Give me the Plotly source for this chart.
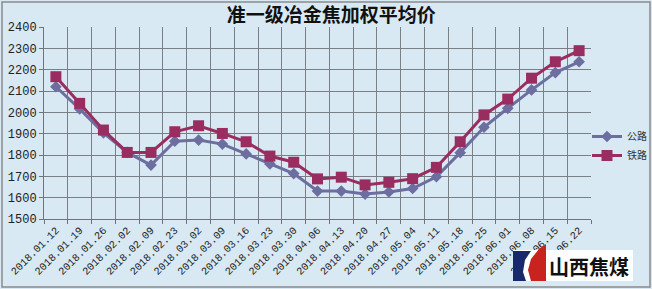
import plotly.graph_objects as go

dates = ["2018.01.12", "2018.01.19", "2018.01.26", "2018.02.02", "2018.02.09", "2018.02.23",
         "2018.03.02", "2018.03.09", "2018.03.16", "2018.03.23", "2018.03.30", "2018.04.06",
         "2018.04.13", "2018.04.20", "2018.04.27", "2018.05.04", "2018.05.11", "2018.05.18",
         "2018.05.25", "2018.06.01", "2018.06.08", "2018.06.15", "2018.06.22"]
highway = [2120, 2016, 1904, 1812, 1753, 1865, 1870, 1851, 1805, 1758, 1713, 1631,
           1631, 1617, 1627, 1643, 1698, 1811, 1930, 2019, 2105, 2186, 2237]
railway = [2167, 2042, 1917, 1812, 1812, 1909, 1937, 1901, 1862, 1795, 1766, 1688,
           1696, 1660, 1672, 1689, 1742, 1862, 1988, 2062, 2160, 2237, 2289]

bg = "#d8e9f3"
fig = go.Figure()
fig.add_trace(go.Scatter(x=dates, y=highway, name="公路", mode="lines+markers",
                         line=dict(color="#6c6e9f", width=3),
                         marker=dict(symbol="diamond", size=9, color="#6c6e9f")))
fig.add_trace(go.Scatter(x=dates, y=railway, name="铁路", mode="lines+markers",
                         line=dict(color="#9a2d60", width=3),
                         marker=dict(symbol="square", size=11, color="#9a2d60")))

W, H = 652, 289
L, R, T, B = 44, 61, 27, 70
pw, ph = W - L - R, H - T - B

def px(x):
    return (x - L) / pw

def py(y):
    return (H - B - y) / ph

shapes = [
    dict(type="rect", xref="paper", yref="paper", x0=px(2), x1=px(650), y0=py(287), y1=py(2),
         line=dict(color="#8a8a8a", width=1.5), layer="below"),
    dict(type="rect", xref="paper", yref="paper", x0=px(513), x1=px(633), y0=py(281), y1=py(250),
         line=dict(width=0), fillcolor="white", layer="above"),
    dict(type="path", xref="paper", yref="paper",
         path=f"M {px(513)},{py(251)} L {px(531)},{py(251)} L {px(525)},{py(260)} L {px(523)},{py(272)} L {px(526)},{py(281)} L {px(513)},{py(281)} Z",
         line=dict(width=0), fillcolor="#17296b", layer="above"),
    dict(type="path", xref="paper", yref="paper",
         path=f"M {px(546)},{py(244)} L {px(546)},{py(281)} L {px(531)},{py(281)} L {px(528)},{py(270)} L {px(531)},{py(259)} L {px(539)},{py(249)} Z",
         line=dict(width=0), fillcolor="#c8231f", layer="above"),
]

fig.update_layout(
    width=W, height=H,
    margin=dict(l=L, r=R, t=T, b=B, autoexpand=False),
    paper_bgcolor=bg, plot_bgcolor=bg,
    title=dict(text="<b>准一级冶金焦加权平均价</b>", x=px(322), xanchor="center",
               y=1 - 15 / H, yanchor="middle",
               font=dict(family="Noto Sans CJK SC", size=19, color="#111111")),
    xaxis=dict(type="category", range=[-0.5, len(dates) - 0.5], tickson="boundaries",
               showgrid=True, gridcolor="#7a7f86",
               gridwidth=1, showline=True, linecolor="#6f747a", linewidth=1, automargin=False,
               ticks="outside", ticklen=4, tickcolor="#6f747a", tickangle=-45,
               tickfont=dict(family="Liberation Mono", size=10.5, color="#222222")),
    yaxis=dict(range=[1500, 2400], dtick=100, showgrid=True, gridcolor="#7a7f86", gridwidth=1,
               showline=True, linecolor="#6f747a", linewidth=1, ticks="outside", ticklen=4,
               tickcolor="#6f747a", zeroline=False, automargin=False,
               tickfont=dict(family="Liberation Mono", size=12, color="#222222")),
    legend=dict(x=px(587), xanchor="left", y=py(146), yanchor="middle",
                bgcolor="rgba(0,0,0,0)", font=dict(family="Noto Sans CJK SC", size=10, color="#333333"),
                itemwidth=30),
    shapes=shapes,
    annotations=[dict(text="<b>山西焦煤</b>", xref="paper", yref="paper", x=px(589), y=py(266),
                      xanchor="center", yanchor="middle", showarrow=False,
                      font=dict(family="Noto Sans CJK SC", size=20, color="#111111"))],
)

fig.write_html("out.html")
